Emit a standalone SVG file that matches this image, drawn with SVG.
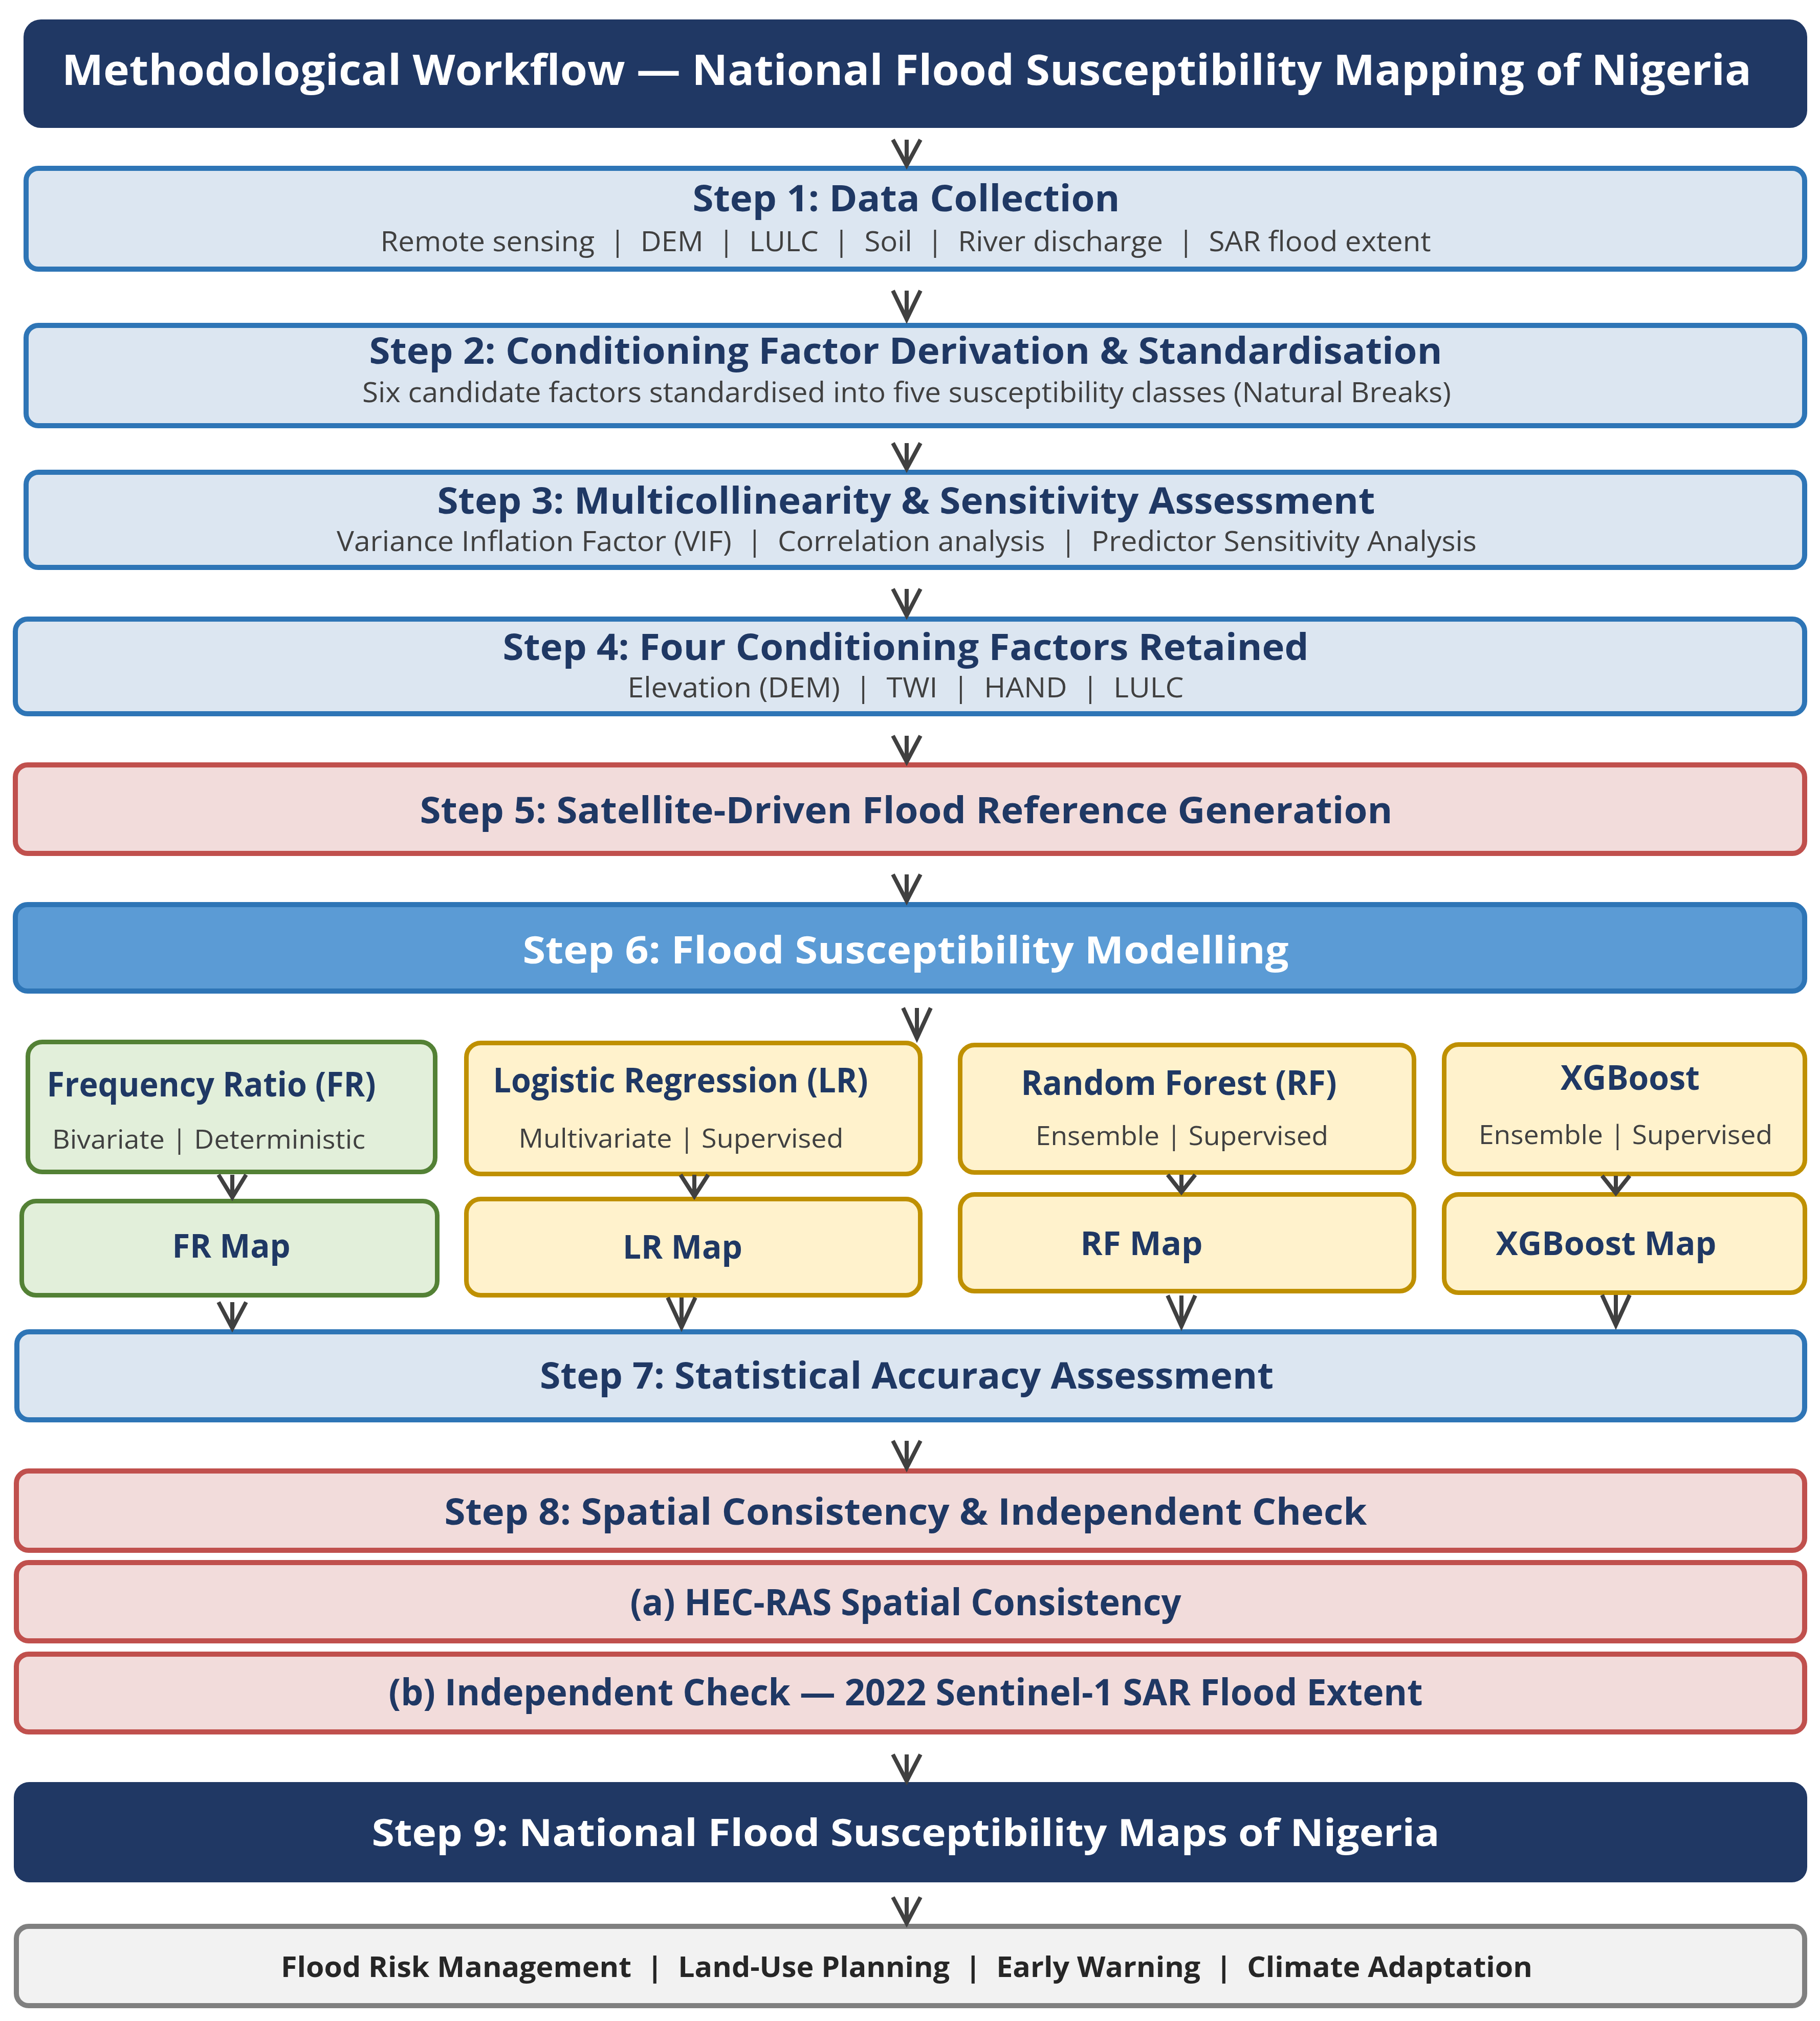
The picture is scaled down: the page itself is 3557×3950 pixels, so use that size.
<svg xmlns="http://www.w3.org/2000/svg" width="3557" height="3950" viewBox="0 0 3557 3950">
<style>
text{font-family:"Open Sans","Noto Sans","Liberation Sans",sans-serif;text-anchor:middle;white-space:pre}
.h{font-weight:700;fill:#1F3864;font-size:72px}
.hw{font-weight:700;fill:#FFFFFF;font-size:74px}
.s{font-weight:400;fill:#404040;font-size:54px}
.mt{font-weight:700;fill:#1F3864;font-size:66px}
.ms{font-weight:400;fill:#404040;font-size:52px}
.mp{font-weight:700;fill:#1F3864;font-size:64px}
.blue{fill:#DCE6F1;stroke:#2E75B6;stroke-width:10}
.red{fill:#F2DCDB;stroke:#C0504D;stroke-width:10}
.green{fill:#E2EFDA;stroke:#538135;stroke-width:9}
.gold{fill:#FFF2CC;stroke:#BF9000;stroke-width:9}
.navy{fill:#203864}
.mid{fill:#5B9BD5;stroke:#2E75B6;stroke-width:10}
.grey{fill:#F2F2F2;stroke:#808080;stroke-width:10}
.arr{fill:none;stroke:#404040;stroke-width:8;stroke-linejoin:miter}
</style>
<g id="title">
<rect class="navy" x="46" y="38" width="3486" height="212" rx="34"/>
<text class="hw" x="1772" y="166" style="font-size:82px" textLength="3302" lengthAdjust="spacingAndGlyphs">Methodological Workflow — National Flood Susceptibility Mapping of Nigeria</text>
</g>
<g id="step1">
<rect class="blue" x="51" y="329" width="3476" height="197" rx="24"/>
<text class="h" x="1771" y="413" textLength="835" lengthAdjust="spacingAndGlyphs">Step 1: Data Collection</text>
<text class="s" x="1770" y="491" textLength="2053" lengthAdjust="spacingAndGlyphs">Remote sensing  |  DEM  |  LULC  |  Soil  |  River discharge  |  SAR flood extent</text>
</g>
<g id="step2">
<rect class="blue" x="51" y="636" width="3476" height="196" rx="24"/>
<text class="h" x="1770" y="711" textLength="2097" lengthAdjust="spacingAndGlyphs">Step 2: Conditioning Factor Derivation &amp; Standardisation</text>
<text class="s" x="1772" y="786" textLength="2128" lengthAdjust="spacingAndGlyphs">Six candidate factors standardised into five susceptibility classes (Natural Breaks)</text>
</g>
<g id="step3">
<rect class="blue" x="51" y="923" width="3476" height="186" rx="24"/>
<text class="h" x="1771" y="1004" textLength="1833" lengthAdjust="spacingAndGlyphs">Step 3: Multicollinearity &amp; Sensitivity Assessment</text>
<text class="s" x="1772" y="1077" textLength="2228" lengthAdjust="spacingAndGlyphs">Variance Inflation Factor (VIF)  |  Correlation analysis  |  Predictor Sensitivity Analysis</text>
</g>
<g id="step4">
<rect class="blue" x="30" y="1210" width="3497" height="185" rx="24"/>
<text class="h" x="1770" y="1290" textLength="1575" lengthAdjust="spacingAndGlyphs">Step 4: Four Conditioning Factors Retained</text>
<text class="s" x="1770" y="1363" textLength="1087" lengthAdjust="spacingAndGlyphs">Elevation (DEM)  |  TWI  |  HAND  |  LULC</text>
</g>
<g id="step5">
<rect class="red" x="30" y="1495" width="3497" height="173" rx="24"/>
<text class="h" x="1771" y="1609" textLength="1901" lengthAdjust="spacingAndGlyphs">Step 5: Satellite-Driven Flood Reference Generation</text>
</g>
<g id="step6">
<rect class="mid" x="30" y="1768" width="3497" height="169" rx="24"/>
<text class="hw" x="1770" y="1883" textLength="1497" lengthAdjust="spacingAndGlyphs">Step 6: Flood Susceptibility Modelling</text>
</g>
<g id="fr">
<rect class="green" x="54.5" y="2036.5" width="796" height="254" rx="28"/>
<text class="mt" x="413" y="2143" textLength="643" lengthAdjust="spacingAndGlyphs">Frequency Ratio (FR)</text>
<text class="ms" x="408" y="2245" textLength="612" lengthAdjust="spacingAndGlyphs">Bivariate | Deterministic</text>
</g>
<g id="lr">
<rect class="gold" x="911.5" y="2038.5" width="887" height="256" rx="28"/>
<text class="mt" x="1330" y="2135" textLength="733" lengthAdjust="spacingAndGlyphs">Logistic Regression (LR)</text>
<text class="ms" x="1331" y="2243" textLength="635" lengthAdjust="spacingAndGlyphs">Multivariate | Supervised</text>
</g>
<g id="rf">
<rect class="gold" x="1876.5" y="2042.5" width="887" height="249" rx="28"/>
<text class="mt" x="2304" y="2140" textLength="617" lengthAdjust="spacingAndGlyphs">Random Forest (RF)</text>
<text class="ms" x="2310" y="2238" textLength="572" lengthAdjust="spacingAndGlyphs">Ensemble | Supervised</text>
</g>
<g id="xgb">
<rect class="gold" x="2822.5" y="2041.5" width="705" height="253" rx="28"/>
<text class="mt" x="3186" y="2130" textLength="272" lengthAdjust="spacingAndGlyphs">XGBoost</text>
<text class="ms" x="3177" y="2236" textLength="574" lengthAdjust="spacingAndGlyphs">Ensemble | Supervised</text>
</g>
<g id="frmap">
<rect class="green" x="42.5" y="2347.5" width="812" height="184" rx="28"/>
<text class="mp" x="452" y="2458" textLength="231" lengthAdjust="spacingAndGlyphs">FR Map</text>
</g>
<g id="lrmap">
<rect class="gold" x="911.5" y="2343.5" width="887" height="188" rx="28"/>
<text class="mp" x="1334" y="2460" textLength="234" lengthAdjust="spacingAndGlyphs">LR Map</text>
</g>
<g id="rfmap">
<rect class="gold" x="1876.5" y="2334.5" width="887" height="189" rx="28"/>
<text class="mp" x="2231" y="2453" textLength="239" lengthAdjust="spacingAndGlyphs">RF Map</text>
</g>
<g id="xgbmap">
<rect class="gold" x="2822.5" y="2334.5" width="705" height="192" rx="28"/>
<text class="mp" x="3139" y="2453" textLength="431" lengthAdjust="spacingAndGlyphs">XGBoost Map</text>
</g>
<g id="step7">
<rect class="blue" x="33" y="2603" width="3494" height="172" rx="24"/>
<text class="h" x="1772" y="2714" textLength="1434" lengthAdjust="spacingAndGlyphs">Step 7: Statistical Accuracy Assessment</text>
</g>
<g id="step8">
<rect class="red" x="32" y="2875" width="3495" height="155" rx="24"/>
<text class="h" x="1770" y="2980" textLength="1803" lengthAdjust="spacingAndGlyphs">Step 8: Spatial Consistency &amp; Independent Check</text>
</g>
<g id="step8a">
<rect class="red" x="32" y="3054" width="3495" height="153" rx="24"/>
<text class="h" x="1770" y="3157" textLength="1077" lengthAdjust="spacingAndGlyphs">(a) HEC-RAS Spatial Consistency</text>
</g>
<g id="step8b">
<rect class="red" x="32" y="3233" width="3495" height="152" rx="24"/>
<text class="h" x="1770" y="3333" textLength="2021" lengthAdjust="spacingAndGlyphs">(b) Independent Check — 2022 Sentinel-1 SAR Flood Extent</text>
</g>
<g id="step9">
<rect class="navy" x="27" y="3483" width="3505" height="196" rx="30"/>
<text class="hw" x="1770" y="3608" textLength="2087" lengthAdjust="spacingAndGlyphs">Step 9: National Flood Susceptibility Maps of Nigeria</text>
</g>
<g id="applications">
<rect class="grey" x="32" y="3765" width="3495" height="155" rx="24"/>
<text class="s" x="1772" y="3864" style="font-weight:700;fill:#262626;font-size:56px" textLength="2446" lengthAdjust="spacingAndGlyphs">Flood Risk Management  |  Land-Use Planning  |  Early Warning  |  Climate Adaptation</text>
</g>
<g id="connectors" class="arr">
<path d="M1772 273V323M1745 273L1772 323L1799 273"/>
<path d="M1772 568V624M1745 568L1772 624L1799 568"/>
<path d="M1772 866V916M1745 866L1772 916L1799 866"/>
<path d="M1772 1151V1203M1745 1151L1772 1203L1799 1151"/>
<path d="M1772 1438V1489M1745 1438L1772 1489L1799 1438"/>
<path d="M1772 1709V1761M1745 1709L1772 1761L1799 1709"/>
<path d="M1792 1970V2029M1765 1970L1792 2029L1819 1970"/>
<path d="M454 2296V2340M427 2296L454 2340L481 2296"/>
<path d="M1357 2296V2338M1330 2296L1357 2338L1384 2296"/>
<path d="M2309 2296V2330M2282 2296L2309 2330L2336 2296"/>
<path d="M3158 2298V2332M3131 2298L3158 2332L3185 2298"/>
<path d="M454 2545V2596M427 2545L454 2596L481 2545"/>
<path d="M1332 2536V2594M1305 2536L1332 2594L1359 2536"/>
<path d="M2309 2532V2592M2282 2532L2309 2592L2336 2532"/>
<path d="M3158 2531V2590M3131 2531L3158 2590L3185 2531"/>
<path d="M1772 2816V2869M1745 2816L1772 2869L1799 2816"/>
<path d="M1772 3429V3481M1745 3429L1772 3481L1799 3429"/>
<path d="M1772 3708V3759M1745 3708L1772 3759L1799 3708"/>
</g>
</svg>
